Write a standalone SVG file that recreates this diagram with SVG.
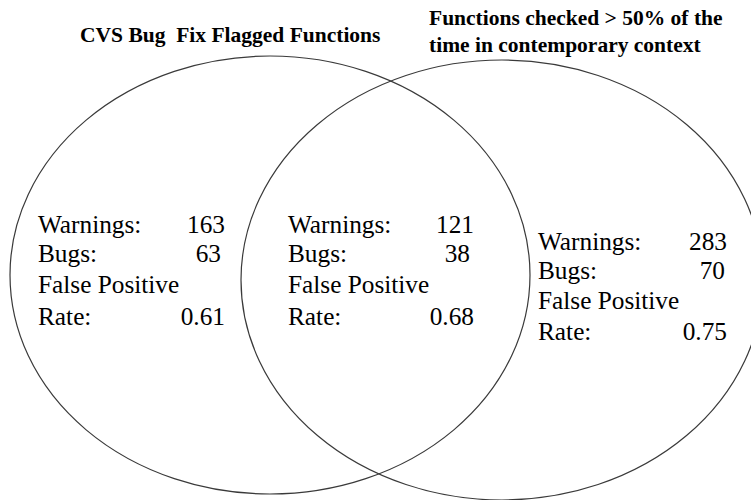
<svg xmlns="http://www.w3.org/2000/svg" width="751" height="500" viewBox="0 0 751 500">
  <style>
    .set { fill: none; stroke: #3a3a3a; stroke-width: 1.2; }
    text { font-family: 'Liberation Serif', 'DejaVu Serif', serif; fill: #000; }
    .title { font-weight: bold; font-size: 21.5px; white-space: pre; }
    .lbl { font-size: 25.3px; }
    .num { font-size: 25.3px; text-anchor: end; }
  </style>
  <rect width="751" height="500" fill="#fff"/>

  <!-- set outlines -->
  <g id="sets">
    <ellipse class="set" cx="270" cy="275" rx="260" ry="219"/>
    <ellipse class="set" cx="502" cy="280" rx="261" ry="220"/>
  </g>

  <!-- set captions -->
  <text class="title" x="80" y="42" xml:space="preserve">CVS Bug  Fix Flagged Functions</text>
  <text class="title" x="429" y="25">Functions checked &gt; 50% of the</text>
  <text class="title" x="429" y="52">time in contemporary context</text>

  <!-- left-only region -->
  <g id="left-only">
    <text class="lbl" x="38" y="233">Warnings:</text><text class="num" x="225" y="233">163</text>
    <text class="lbl" x="38" y="262">Bugs:</text><text class="num" x="221" y="262">63</text>
    <text class="lbl" x="38" y="293">False Positive</text>
    <text class="lbl" x="38" y="325">Rate:</text><text class="num" x="225" y="325">0.61</text>
  </g>

  <!-- overlap region -->
  <g id="overlap">
    <text class="lbl" x="288" y="233">Warnings:</text><text class="num" x="474" y="233">121</text>
    <text class="lbl" x="288" y="262">Bugs:</text><text class="num" x="470" y="262">38</text>
    <text class="lbl" x="288" y="293">False Positive</text>
    <text class="lbl" x="288" y="325">Rate:</text><text class="num" x="474" y="325">0.68</text>
  </g>

  <!-- right-only region -->
  <g id="right-only">
    <text class="lbl" x="538" y="250">Warnings:</text><text class="num" x="727" y="250">283</text>
    <text class="lbl" x="538" y="279">Bugs:</text><text class="num" x="725" y="279">70</text>
    <text class="lbl" x="538" y="309">False Positive</text>
    <text class="lbl" x="538" y="340">Rate:</text><text class="num" x="727" y="340">0.75</text>
  </g>
</svg>
